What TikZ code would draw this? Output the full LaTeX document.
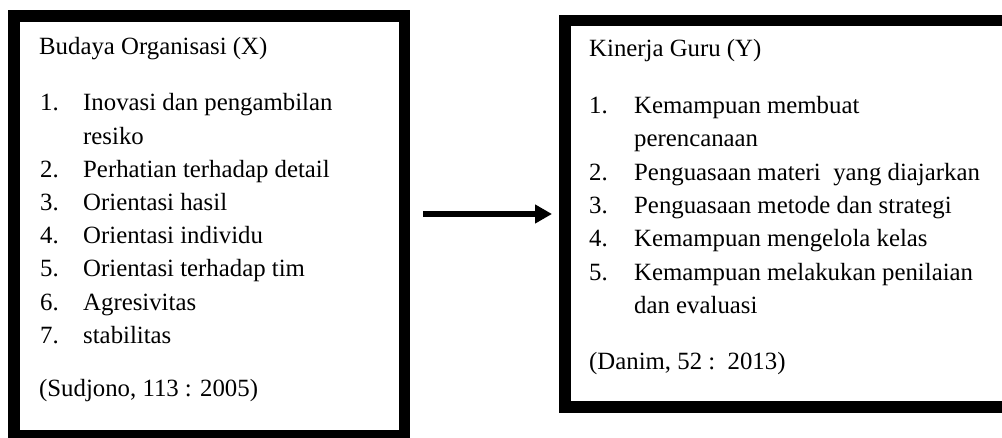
\documentclass[tikz,border=0pt]{standalone}
\usepackage{fontspec}
\setmainfont{Liberation Serif}
\usetikzlibrary{arrows.meta}
\tikzset{
  frame/.style={draw=black, line width=11.5pt, rectangle, inner sep=0pt},
  txt/.style={anchor=base west, inner sep=0pt, font=\fontsize{24.8}{30}\selectfont},
  flow/.style={line width=6pt, -{Triangle[length=17pt,width=18pt]}}
}
\begin{document}
\begin{tikzpicture}[x=1pt,y=-1pt]
\useasboundingbox (0,0) rectangle (1002,438);
% boxes
\node[frame, minimum width=390.5pt, minimum height=420.25pt] (left) at (209,225.9) {};
\node[frame, minimum width=445.25pt, minimum height=386.5pt] (right) at (787.4,214) {};
% left texts
\node[txt] (lt) at (39,55) {Budaya Organisasi (X)};
\node[txt] (ln1) at (40,111) {1.};
\node[txt] (li1) at (83,111) {Inovasi dan pengambilan};
\node[txt] (li1b) at (83,144.2) {resiko};
\node[txt] (ln2) at (40,177.4) {2.};
\node[txt] (li2) at (83,177.4) {Perhatian terhadap detail};
\node[txt] (ln3) at (40,210.6) {3.};
\node[txt] (li3) at (83,210.6) {Orientasi hasil};
\node[txt] (ln4) at (40,243.8) {4.};
\node[txt] (li4) at (83,243.8) {Orientasi individu};
\node[txt] (ln5) at (40,277) {5.};
\node[txt] (li5) at (83,277) {Orientasi terhadap tim};
\node[txt] (ln6) at (40,310.2) {6.};
\node[txt] (li6) at (83,310.2) {Agresivitas};
\node[txt] (ln7) at (40,343.4) {7.};
\node[txt] (li7) at (83,343.4) {stabilitas};
\node[txt] (lsrc) at (39,396) {(Sudjono, 113 : 2005)};
% right texts
\node[txt] (rt) at (589,57) {Kinerja Guru (Y)};
\node[txt] (rn1) at (589,114) {1.};
\node[txt] (ri1) at (634,114) {Kemampuan membuat};
\node[txt] (ri1b) at (634,147) {perencanaan};
\node[txt] (rn2) at (589,180.3) {2.};
\node[txt] (ri2) at (634,180.3) {Penguasaan materi\ \ yang diajarkan};
\node[txt] (rn3) at (589,213.6) {3.};
\node[txt] (ri3) at (634,213.6) {Penguasaan metode dan strategi};
\node[txt] (rn4) at (589,246.9) {4.};
\node[txt] (ri4) at (634,246.9) {Kemampuan mengelola kelas};
\node[txt] (rn5) at (589,280.2) {5.};
\node[txt] (ri5) at (634,280.2) {Kemampuan melakukan penilaian};
\node[txt] (ri5b) at (634,313.5) {dan evaluasi};
\node[txt] (rsrc) at (589,370) {(Danim, 52 :\ \ 2013)};
% arrow
\draw[flow, shorten <=13pt, shorten >=7pt] (left.east |- right.west) -- (right.west);
\end{tikzpicture}
\end{document}
